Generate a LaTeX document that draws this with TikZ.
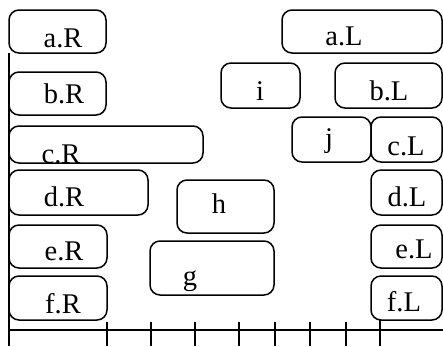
\documentclass[tikz,border=0pt]{standalone}
\usepackage{fontspec}
\setmainfont{Liberation Serif}
\begin{document}
\begin{tikzpicture}[x=1pt,y=-1pt,
  box/.style={draw=black, line width=1.5pt, rounded corners=10pt},
  lab/.style={anchor=base, inner sep=0pt, font=\fontsize{28.5}{30}\selectfont},
  rule/.style={line width=1.4pt}]
\useasboundingbox (0,0) rectangle (443,346);
\begin{scope}
\clip (0,0) rectangle (443,346);
% boxes
\draw[box] (9,10) rectangle (106,53);
\draw[box] (9,72) rectangle (106,115);
\draw[box] (9,126) rectangle (203,163);
\draw[box] (9,170) rectangle (148,215);
\draw[box] (9,225) rectangle (107,268);
\draw[box] (9,276) rectangle (107,320);
\draw[box] (150,241) rectangle (274,295);
\draw[box] (177,180) rectangle (274,233);
\draw[box] (221,63) rectangle (300,108);
\draw[box] (292,117) rectangle (371,162);
\draw[box] (282,10) rectangle (442,53);
\draw[box] (335,63) rectangle (442,108);
\draw[box] (371,117) rectangle (442,162);
\draw[box] (371,170) rectangle (442,215);
\draw[box] (371,225) rectangle (442,268);
\draw[box] (371,276) rectangle (442,320);
% labels
\node[lab] (taR) at (63,47) {a.R};
\node[lab] (tbR) at (64,103) {b.R};
\node[lab] (tcR) at (61,163) {c.R};
\node[lab] (tdR) at (64,206) {d.R};
\node[lab] (teR) at (64,260) {e.R};
\node[lab] (tfR) at (63,313) {f.R};
\node[lab] (tg) at (190,285) {g};
\node[lab] (th) at (219,213) {h};
\node[lab] (ti) at (260,100) {i};
\node[lab] (tj) at (329,147) {j};
\node[lab] (taL) at (344,45) {a.L};
\node[lab] (tbL) at (389,100) {b.L};
\node[lab] (tcL) at (406,155) {c.L};
\node[lab] (tdL) at (407,206) {d.L};
\node[lab] (teL) at (414,258) {e.L};
\node[lab] (tfL) at (404,311) {f.L};
% axis lines
\draw[rule] (9,53) -- (9,346);
\draw[rule] (9,330) -- (443,330);
\foreach \x in {107,151,195,239,275,310,346}
  \draw[rule] (\x,322) -- (\x,346);
\draw[rule] (380,320) -- (380,346);
\end{scope}
\end{tikzpicture}
\end{document}
